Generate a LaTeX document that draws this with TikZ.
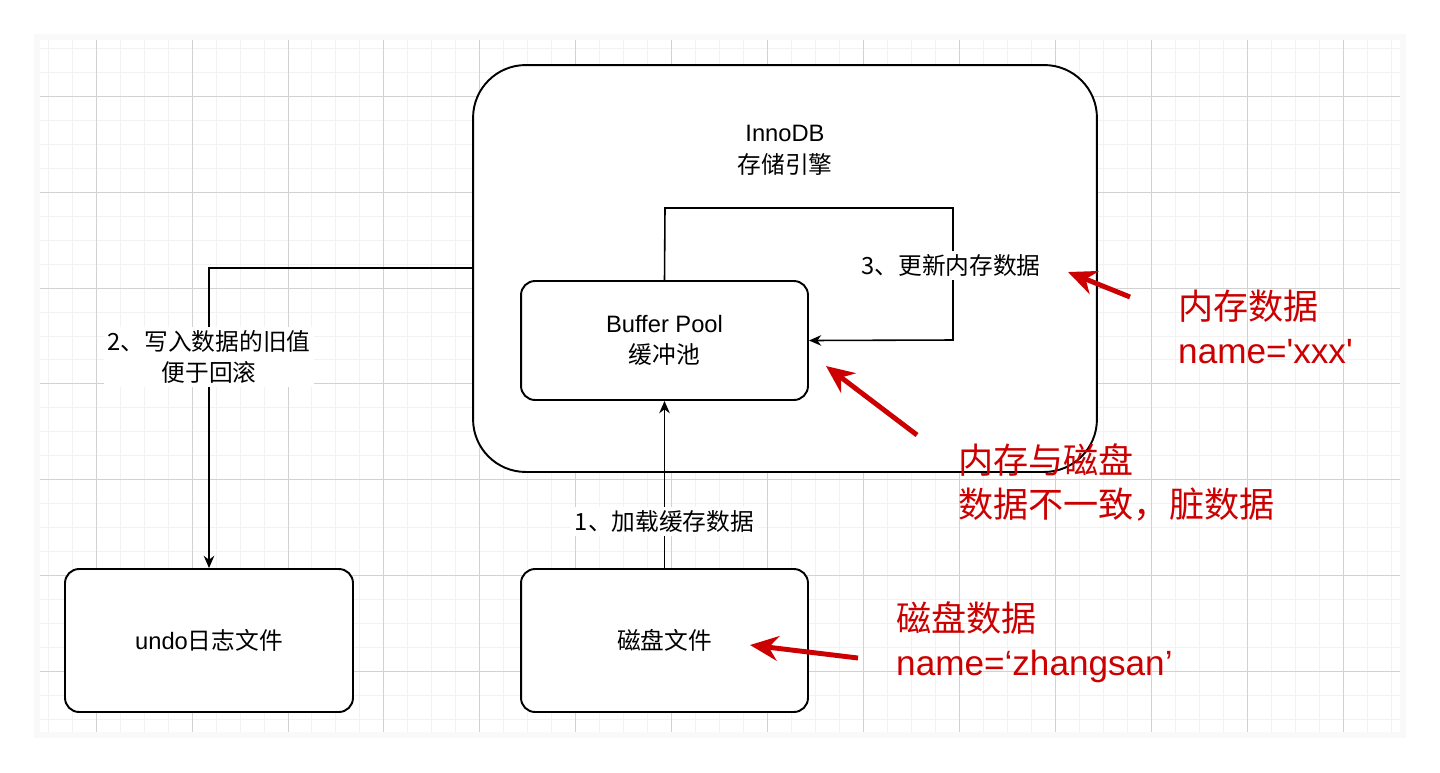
\documentclass[tikz,border=0pt]{standalone}
\usepackage{fontspec}
\setmainfont{Noto Sans CJK SC}
\newfontfamily\latinfont{Liberation Sans}
\usetikzlibrary{arrows.meta}
\tikzset{
  box/.style={draw, line width=1.1pt, rounded corners=8pt, align=center, font=\fontsize{13.5}{18}\selectfont},
  lbl/.style={fill=white, inner sep=2pt, align=center, font=\fontsize{13.5}{18}\selectfont},
  redtxt/.style={text=red!80!black, anchor=west, align=left, font=\fontsize{20}{25}\selectfont},
  flow/.style={line width=0.9pt, -{Stealth[length=7pt,width=6pt]}},
  hint/.style={draw=red!80!black, line width=2.8pt, -{Stealth[length=16pt,width=14pt]}}
}
\begin{document}
\begin{tikzpicture}[x=0.02cm, y=-0.02cm]
      \useasboundingbox (0,0) rectangle (1440,772);
      % canvas
      \fill[gray!5] (34,34) rectangle (1406,738);
      \fill[white] (40,40) rectangle (1400,732);
      \begin{scope}
        \clip (40,40) rectangle (1400,732);
        \draw[gray!10, line width=0.5pt, xstep=0.48cm, ystep=0.48cm] (39,39) grid (1400,732);
        \draw[gray!35, line width=0.5pt, xstep=1.92cm, ystep=1.92cm] (39,39) grid (1400,732);
      \end{scope}
      % boxes
      \node[box, rounded corners=30pt, fill=white, minimum width=12.48cm, minimum height=8.14cm] (inno) at (785,268.5) {};
      \node[font=\fontsize{13.5}{18}\selectfont, align=center] (innot) at (785,150) {{\latinfont InnoDB}\\存储引擎};
      \node[box, fill=white, minimum width=5.74cm, minimum height=2.38cm] (pool) at (664.5,340.5) {{\latinfont Buffer Pool}\\缓冲池};
      \node[box, fill=white, minimum width=5.76cm, minimum height=2.86cm] (undo) at (209,640.5) {{\latinfont undo}日志文件};
      \node[box, fill=white, minimum width=5.74cm, minimum height=2.86cm] (disk) at (664.5,640.5) {磁盘文件};
      % connectors
      \coordinate (loopa) at (665,208);
      \coordinate (loopb) at (953,208);
      \coordinate (loopc) at (953,340);
      \coordinate (undoc) at (209,268);
      \draw[flow] (disk.north) -- node[lbl, pos=0.28] (step1) {1、加载缓存数据} (pool.south);
      \draw[flow] (pool.north) -- (loopa) -- (loopb) -- (loopc) -- (pool.east);
      \node[lbl] (step3) at (951,265) {3、更新内存数据};
      \draw[flow] (inno.west |- undoc) -- (undoc) -- (undo.north);
      \node[lbl] (step2) at (209,357) {2、写入数据的旧值\\便于回滚};
      % red remarks
      \node[redtxt] (mem) at (1172,327) {内存数据\\{\latinfont name='xxx'}};
      \node[redtxt] (dirty) at (952,482) {内存与磁盘\\数据不一致，脏数据};
      \node[redtxt] (dsk) at (890,642) {磁盘数据\\{\latinfont name=‘zhangsan’}};
      \coordinate (ha) at (1130,297);
      \coordinate (hb) at (917,435);
      \coordinate (hc) at (858,658);
      \draw[hint] (ha) -- (1068,272);
      \draw[hint] (hb) -- (826,366);
      \draw[hint] (hc) -- (750,645);
\end{tikzpicture}
\end{document}
